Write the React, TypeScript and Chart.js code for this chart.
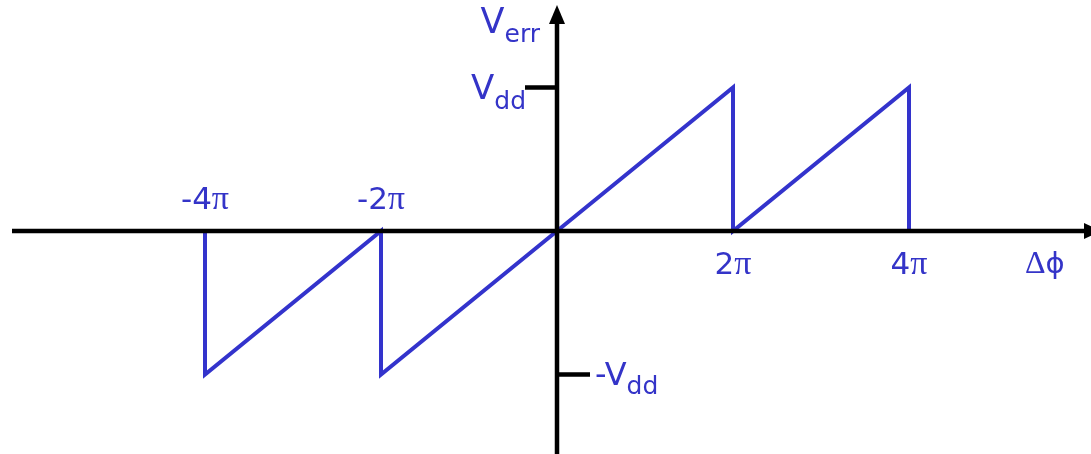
import React, { useEffect, useRef } from "react";
import { Chart, registerables } from "chart.js";

Chart.register(...registerables);

// Phase difference in multiples of π, and the detector output in units of Vdd
const phaseX = [-4, -4, -2, -2, 0, 2, 2, 4, 4];
const vErr = [0, -1, 0, -1, 0, 1, 0, 1, 0];

// Labelled phase ticks (multiples of π)
const phaseTicks = [-4, -2, 2, 4];
const phaseTickLabels = ["-4", "-2", "2", "4"];

// Labelled voltage ticks (units of Vdd)
const voltTicks = [1, -1];

const BLUE = "#3333cc";
const TEXT = "#3434c8";
const SANS = '"DejaVu Sans", Verdana, sans-serif';
const SERIF = '"Liberation Serif", "Times New Roman", serif';

type Run = { text: string; font: string; dy?: number };

function drawRuns(
  ctx: CanvasRenderingContext2D,
  runs: Run[],
  x: number,
  baseline: number,
  align: "left" | "center" | "right"
) {
  ctx.save();
  ctx.textBaseline = "alphabetic";
  ctx.textAlign = "left";
  let total = 0;
  const widths = runs.map((r) => {
    ctx.font = r.font;
    const w = ctx.measureText(r.text).width;
    total += w;
    return w;
  });
  let cx = align === "left" ? x : align === "center" ? x - total / 2 : x - total;
  runs.forEach((r, i) => {
    ctx.font = r.font;
    ctx.fillText(r.text, cx, baseline + (r.dy ?? 0));
    cx += widths[i];
  });
  ctx.restore();
}

const axesPlugin = {
  id: "crossedAxes",
  afterDatasetsDraw(chart: any) {
    const ctx: CanvasRenderingContext2D = chart.ctx;
    const xs = chart.scales.x;
    const ys = chart.scales.y;
    const x0 = xs.getPixelForValue(0);
    const y0 = ys.getPixelForValue(0);
    const W = chart.width;
    const H = chart.height;

    ctx.save();
    ctx.strokeStyle = "#000";
    ctx.fillStyle = "#000";
    ctx.lineWidth = 4.5;
    ctx.lineCap = "butt";

    // horizontal axis with arrow
    ctx.beginPath();
    ctx.moveTo(12, y0);
    ctx.lineTo(W - 4, y0);
    ctx.stroke();
    ctx.beginPath();
    ctx.moveTo(W + 10, y0);
    ctx.lineTo(W - 7, y0 - 8);
    ctx.lineTo(W - 7, y0 + 8);
    ctx.closePath();
    ctx.fill();

    // vertical axis with arrow
    ctx.beginPath();
    ctx.moveTo(x0, H);
    ctx.lineTo(x0, 20);
    ctx.stroke();
    ctx.beginPath();
    ctx.moveTo(x0, 5);
    ctx.lineTo(x0 - 8, 24);
    ctx.lineTo(x0 + 8, 24);
    ctx.closePath();
    ctx.fill();

    // Vdd / -Vdd ticks
    const yTop = ys.getPixelForValue(voltTicks[0]);
    const yBot = ys.getPixelForValue(voltTicks[1]);
    ctx.beginPath();
    ctx.moveTo(x0 - 32, yTop);
    ctx.lineTo(x0, yTop);
    ctx.moveTo(x0, yBot);
    ctx.lineTo(x0 + 33, yBot);
    ctx.stroke();
    ctx.restore();

    ctx.save();
    ctx.fillStyle = TEXT;

    // phase tick labels: number followed by π
    phaseTicks.forEach((v, i) => {
      const px = xs.getPixelForValue(v);
      const base = v < 0 ? y0 - 22 : y0 + 43;
      drawRuns(
        ctx,
        [
          { text: phaseTickLabels[i], font: `31px ${SANS}` },
          { text: "π", font: `34px ${SERIF}` },
        ],
        px,
        base,
        "center"
      );
    });

    // Δφ axis title
    drawRuns(
      ctx,
      [
        { text: "Δ", font: `32px ${SERIF}` },
        { text: "ϕ", font: `29px ${SANS}` },
      ],
      1025,
      y0 + 42,
      "left"
    );

    // Verr axis title
    drawRuns(
      ctx,
      [
        { text: "V", font: `35px ${SANS}` },
        { text: "err", font: `25px ${SANS}`, dy: 9 },
      ],
      x0 - 17,
      33,
      "right"
    );

    // Vdd label
    drawRuns(
      ctx,
      [
        { text: "V", font: `34px ${SANS}` },
        { text: "dd", font: `25px ${SANS}`, dy: 10 },
      ],
      x0 - 31,
      yTop + 11,
      "right"
    );

    // -Vdd label
    drawRuns(
      ctx,
      [
        { text: "-V", font: `32px ${SANS}` },
        { text: "dd", font: `25px ${SANS}`, dy: 9 },
      ],
      x0 + 38,
      yBot + 10,
      "left"
    );
    ctx.restore();
  },
};

export default function App() {
  const canvasRef = useRef<HTMLCanvasElement | null>(null);

  useEffect(() => {
    const canvas = canvasRef.current;
    if (!canvas) return;
    const chart = new Chart(canvas, {
      type: "scatter",
      data: {
        datasets: [
          {
            data: phaseX.map((x, i) => ({ x, y: vErr[i] })),
            showLine: true,
            borderColor: BLUE,
            borderWidth: 4,
            pointRadius: 0,
            tension: 0,
            fill: false,
          },
        ],
      },
      options: {
        animation: false,
        responsive: false,
        devicePixelRatio: 1,
        layout: { padding: 0 },
        events: [],
        plugins: {
          legend: { display: false },
          tooltip: { enabled: false },
          title: { display: false },
        },
        scales: {
          x: { type: "linear", display: false, min: -557 / 88, max: (1091 - 557) / 88 },
          y: { type: "linear", display: false, min: -(454 - 231) / 143.5, max: 231 / 143.5 },
        },
      },
      plugins: [axesPlugin],
    });
    return () => chart.destroy();
  }, []);

  return (
    <div style={{ position: "fixed", left: 0, top: 0, width: 1091, height: 454, background: "#fff" }}>
      <canvas ref={canvasRef} width={1091} height={454} style={{ width: 1091, height: 454, display: "block" }} />
    </div>
  );
}
